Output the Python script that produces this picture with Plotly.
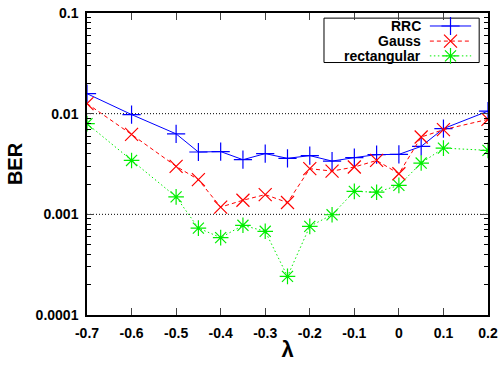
import plotly.graph_objects as go

lam = [-0.7, -0.6, -0.5, -0.45, -0.4, -0.35, -0.3, -0.25, -0.2, -0.15, -0.1, -0.05, 0.0, 0.05, 0.1, 0.2]
rrc = [0.0158, 0.0098, 0.0063, 0.00416, 0.0042, 0.00349, 0.00401, 0.0036, 0.00383, 0.00338, 0.00366, 0.00392, 0.00394, 0.00473, 0.0071, 0.0106]
gauss = [0.0126, 0.00622, 0.0030, 0.00221, 0.00118, 0.00138, 0.00157, 0.00131, 0.00284, 0.00269, 0.00295, 0.00343, 0.00253, 0.00586, 0.00693, 0.00878]
rect = [0.00796, 0.00343, 0.00149, 0.00073, 0.000587, 0.000778, 0.000678, 0.000242, 0.00076, 0.00099, 0.00169, 0.00166, 0.00194, 0.00323, 0.00455, 0.00432]

names = ["RRC", "Gauss", "rectangular"]
colors = ["#0000ff", "#ff0000", "#00ee00"]
dashes = ["solid", "4px,3px", "1.5px,2.5px"]
symbols = ["cross-thin", "x-thin", "asterisk-open"]
series = [rrc, gauss, rect]

y_ticks = [0.0001, 0.001, 0.01, 0.1]
y_ticktext = ["0.0001", "0.001", "0.01", "0.1"]
x_ticks = [-0.7, -0.6, -0.5, -0.4, -0.3, -0.2, -0.1, 0, 0.1, 0.2]
x_ticktext = ["-0.7", "-0.6", "-0.5", "-0.4", "-0.3", "-0.2", "-0.1", "0", "0.1", "0.2"]

fig = go.Figure()
for n, c, d, s, ys in zip(names, colors, dashes, symbols, series):
    fig.add_trace(go.Scatter(
        x=lam, y=ys, mode="lines+markers", name=n, showlegend=False,
        line=dict(color=c, width=1, dash=d),
        marker=dict(symbol=s, size=13, color=c, line=dict(color=c, width=1.2)),
    ))

# custom legend (text left of sample, as in the reference)
leg_y = [0.957, 0.907, 0.858]
for i, (n, c, d, s) in enumerate(zip(names, colors, dashes, symbols)):
    fig.add_trace(go.Scatter(
        x=[0.855, 0.958], y=[leg_y[i], leg_y[i]], xaxis="x2", yaxis="y2",
        mode="lines", line=dict(color=c, width=1, dash=d), showlegend=False, hoverinfo="skip"))
    fig.add_trace(go.Scatter(
        x=[0.9065], y=[leg_y[i]], xaxis="x2", yaxis="y2",
        mode="markers", marker=dict(symbol=s, size=13, color=c, line=dict(color=c, width=1.2)),
        showlegend=False, hoverinfo="skip"))
    fig.add_annotation(x=0.838, y=leg_y[i], xref="x2", yref="y2", text=n, showarrow=False,
                       xanchor="right", yanchor="middle",
                       font=dict(family="Liberation Sans", size=14, color="black", weight="bold"))

fig.add_shape(type="rect", xref="x2", yref="y2", x0=0.591, x1=0.978, y0=0.836, y1=0.983,
              line=dict(color="black", width=1), fillcolor="white", layer="below")

for v in [0.01, 0.001]:
    fig.add_shape(type="line", xref="x domain", yref="y", x0=0, x1=1, y0=v, y1=v,
                  line=dict(color="black", width=1, dash="1px,2px"), layer="below")

fig.update_layout(
    width=502, height=367,
    margin=dict(l=87, r=14, t=13, b=52),
    paper_bgcolor="white", plot_bgcolor="white",
    font=dict(family="Liberation Sans", size=14, color="black"),
    xaxis=dict(range=[-0.7, 0.2], tickvals=x_ticks, ticktext=x_ticktext, automargin=False,
               ticks="inside", ticklen=7, mirror="allticks", showline=True, linecolor="black",
               linewidth=1.5, showgrid=False, zeroline=False, ticklabelstandoff=4,
               tickfont=dict(size=14, weight="bold"),
               title=dict(text="λ", font=dict(size=22, weight="bold"), standoff=2)),
    yaxis=dict(type="log", range=[-4, -1], tickvals=y_ticks, ticktext=y_ticktext, automargin=False,
               ticks="inside", ticklen=7, mirror="allticks", showline=True, linecolor="black",
               linewidth=1.5, showgrid=False, zeroline=False, ticklabelstandoff=4,
               tickfont=dict(size=14, weight="bold"),
               minor=dict(ticks="inside", ticklen=4, dtick="D1", showgrid=False, tickcolor="black"),
               title=dict(text="BER", font=dict(size=20, weight="bold"), standoff=8)),
    xaxis2=dict(overlaying="x", range=[0, 1], visible=False, fixedrange=True),
    yaxis2=dict(overlaying="y", range=[0, 1], visible=False, fixedrange=True),
)

fig.write_html("out.html", config={"displayModeBar": False})

# remove the default page margin so the figure fills the window exactly
with open("out.html", "r", encoding="utf-8") as f:
    html = f.read()
html = html.replace("<head>", "<head><style>html,body{margin:0;padding:0;overflow:hidden;}</style>", 1)
with open("out.html", "w", encoding="utf-8") as f:
    f.write(html)
